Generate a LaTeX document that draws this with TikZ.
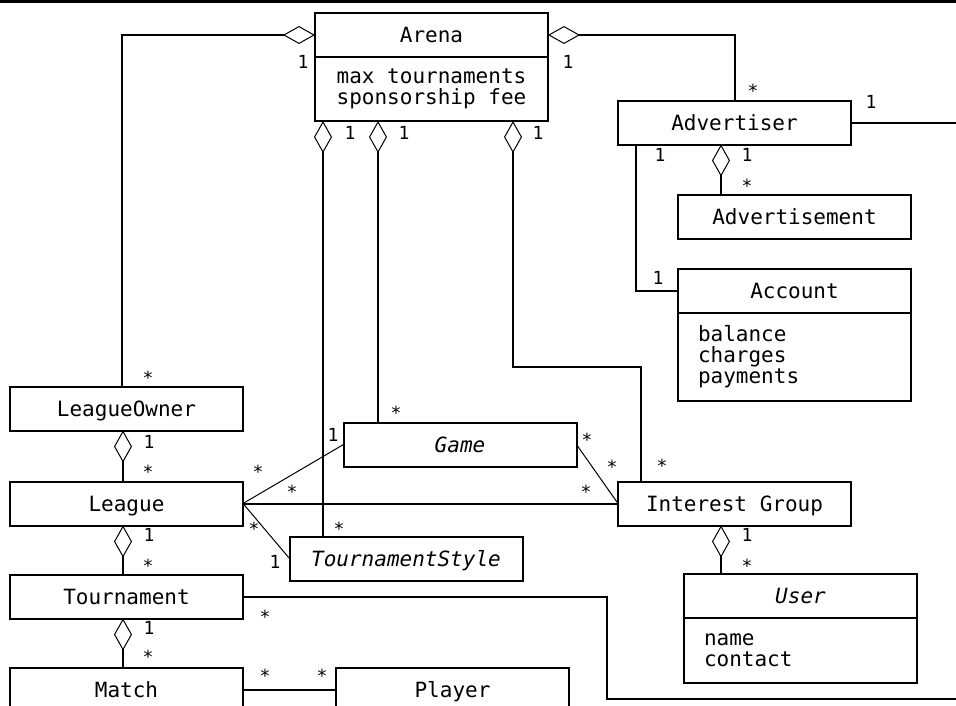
\documentclass[tikz,border=0pt]{standalone}
\usepackage{fontspec}
\usetikzlibrary{arrows.meta, positioning}
\newfontfamily\umlfont{DejaVu Sans Mono}[WordSpace={1,0,0}]
\tikzset{
  umlclass/.style={rectangle, draw, line width=2pt, outer sep=0pt, inner sep=0pt,
                   minimum width=233pt, minimum height=44pt, align=center,
                   text height=15.3pt, text depth=0pt,
                   font=\umlfont\fontsize{21}{21}\selectfont},
  umlattr/.style={umlclass, inner xsep=20pt, text width=193pt, align=left,
                  text height={}, text depth={}},
  abstract/.style={font=\umlfont\itshape\fontsize{21}{21}\selectfont},
  mult/.style={inner sep=0pt, text height=13pt, text depth=0pt,
               font=\umlfont\fontsize{18}{18}\selectfont},
  many/.style={mult, yshift=-4pt},
  aggr/.style={{Diamond[open, length=32pt, width=18pt, line width=1pt]}-, line width=2pt},
  assoc/.style={line width=2pt},
  assocthin/.style={line width=1pt},
}

\begin{document}
\begin{tikzpicture}[x=1pt, y=-1pt]
  \useasboundingbox (0,0) rectangle (956,705);
  \clip (0,0) rectangle (956,705);
  \fill (0,0) rectangle (956,3);
  % classes
  \node[umlclass] (arena) at (431.5,35) {Arena};
  \node[umlclass, text height={}, text depth={}, minimum height=64pt,
        below=0pt of arena] (arenaattr) {max tournaments\\sponsorship fee};
  \node[umlclass] (adv) at (734.5,122.5) {Advertiser};
  \node[umlclass] (advmt) at (794.5,216.5) {Advertisement};
  \node[umlclass] (acct) at (794.5,291) {Account};
  \node[umlattr, minimum height=88pt, below=0pt of acct] (acctattr) {balance\\charges\\payments};
  \node[umlclass] (lowner) at (126.5,408.5) {LeagueOwner};
  \node[umlclass, below=51pt of lowner] (league) {League};
  \node[umlclass, below=49pt of league] (tourn) {Tournament};
  \node[umlclass, below=49pt of tourn] (match) {Match};
  \node[umlclass, right=93pt of match] (player) {Player};
  \node[umlclass, abstract] (game) at (460,444.5) {Game};
  \node[umlclass, abstract] (tstyle) at (406,558.5) {TournamentStyle};
  \node[umlclass] (igroup) at (734.5,503.5) {Interest Group};
  \node[umlclass, abstract] (user) at (800.5,595.5) {User};
  \node[umlattr, minimum height=65pt, below=0pt of user] (userattr) {name\\contact};
  % aggregations
  \draw[aggr] (arena.west) -| ([xshift=-4.5pt]lowner.north);
  \draw[aggr] (arena.east) -| (adv.north);
  \draw[aggr] ([xshift=-108.5pt]arenaattr.south) -- ([xshift=-108.5pt]arenaattr.south |- tstyle.north);
  \draw[aggr] ([xshift=-53.5pt]arenaattr.south) -- ([xshift=-53.5pt]arenaattr.south |- game.north);
  \coordinate (igbend) at (641,367);
  \draw[aggr] ([xshift=81.5pt]arenaattr.south) |- (igbend) -- (igbend |- igroup.north);
  \draw[aggr] ([xshift=-13.5pt]adv.south) -- ([xshift=-13.5pt]adv.south |- advmt.north);
  \draw[aggr] ([xshift=-13.5pt]igroup.south) -- ([xshift=-13.5pt]igroup.south |- user.north);
  \draw[aggr] ([xshift=-3.5pt]lowner.south) -- ([xshift=-3.5pt]lowner.south |- league.north);
  \draw[aggr] ([xshift=-3.5pt]league.south) -- ([xshift=-3.5pt]league.south |- tourn.north);
  \draw[aggr] ([xshift=-3.5pt]tourn.south) -- ([xshift=-3.5pt]tourn.south |- match.north);
  % associations
  \coordinate (offright1) at (956,122.5);
  \coordinate (tbend) at (607,699);
  \coordinate (offright2) at (956,699);
  \draw[assoc] (adv.east) -- (offright1);
  \draw[assoc] ([xshift=18pt]adv.south west) |- (acct.west);
  \draw[assoc] (league.east) -- (igroup.west);
  \draw[assocthin] (league.east) -- (game.west);
  \draw[assocthin] (league.east) -- (tstyle.west);
  \draw[assocthin] (game.east) -- (igroup.west);
  \draw[assoc] (tourn.east) -| (tbend) -- (offright2);
  \draw[assoc] (match.east) -- (player.west);
  % multiplicities
  \node[mult] (m1) at (303,62) {1}; \node[many] (m2) at (148,374) {*};
  \node[mult] (m3) at (568,62) {1}; \node[many] (m4) at (753,87) {*};
  \node[mult] (m5) at (871,102) {1};
  \node[mult] (m6) at (350,133) {1}; \node[mult] (m7) at (404,133) {1}; \node[mult] (m8) at (538,133) {1};
  \node[mult] (m9) at (660,155) {1}; \node[mult] (m10) at (658,278) {1};
  \node[mult] (m11) at (747,155) {1}; \node[many] (m12) at (747,182) {*};
  \node[many] (m13) at (396,409) {*};
  \node[mult] (m14) at (149,442) {1}; \node[many] (m15) at (148,468) {*};
  \node[many] (m16) at (258,468) {*}; \node[mult] (m17) at (333,435) {1};
  \node[many] (m18) at (292,488) {*}; \node[many] (m19) at (586,488) {*};
  \node[many] (m20) at (254,525) {*}; \node[mult] (m21) at (275,562) {1};
  \node[many] (m22) at (339,525) {*};
  \node[many] (m23) at (587,436) {*}; \node[many] (m24) at (612,463) {*};
  \node[many] (m25) at (662,462) {*};
  \node[mult] (m26) at (747,535) {1}; \node[many] (m27) at (747,562) {*};
  \node[mult] (m28) at (149,535) {1}; \node[many] (m29) at (148,562) {*};
  \node[many] (m30) at (265,613) {*};
  \node[mult] (m31) at (149,628) {1}; \node[many] (m32) at (148,653) {*};
  \node[many] (m33) at (265,672) {*}; \node[many] (m34) at (322,672) {*};
\end{tikzpicture}
\end{document}
